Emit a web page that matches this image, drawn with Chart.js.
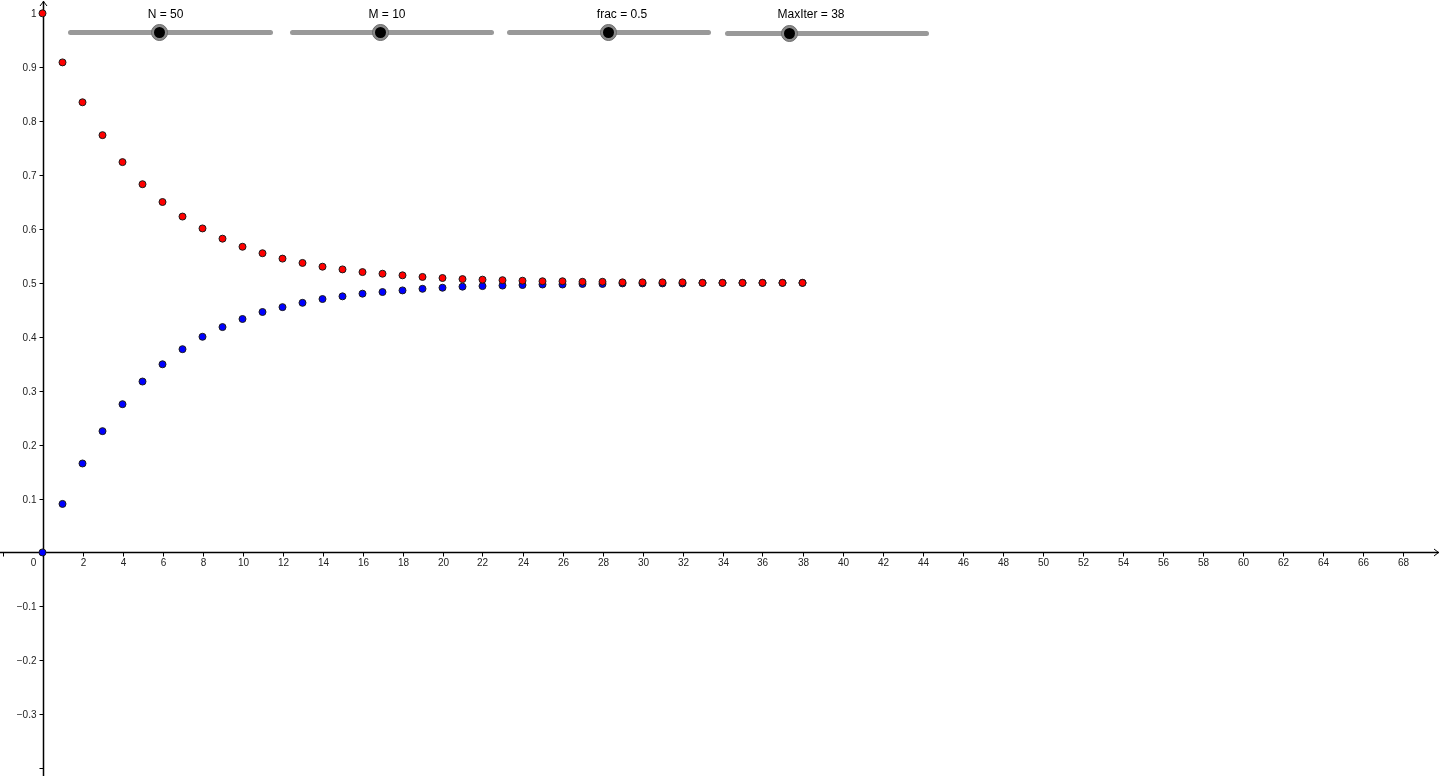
<!DOCTYPE html>
<html>
<head>
<meta charset="utf-8">
<script src="https://cdn.jsdelivr.net/npm/chart.js@4"></script>
<style>
  html, body { margin: 0; padding: 0; background: #fff; overflow: hidden; }
  #wrap { position: relative; width: 1440px; height: 776px; }
  #plot { position: absolute; left: 0; top: 0; }
  .track { position: absolute; height: 5px; background: #999; border-radius: 3px; }
  .knob { position: absolute; width: 17px; height: 17px; border-radius: 50%;
          background: #8a8a8a; box-sizing: border-box; border: 1px solid #6a6a6a; }
  .knob::after { content: ""; position: absolute; left: 2px; top: 2px; width: 11px; height: 11px;
                 border-radius: 50%; background: #000; }
  .cap { position: absolute; font: 12px "Liberation Sans", Arial, sans-serif; color: #000;
         transform: translate(-50%, -50%); white-space: nowrap; }
</style>
</head>
<body>
<div id="wrap">
  <canvas id="plot" width="1440" height="776"></canvas>
</div>
<script>
// Iteration index and the two expected fractions.
const steps = [0, 1, 2, 3, 4, 5, 6, 7, 8, 9, 10, 11, 12, 13, 14, 15, 16, 17, 18, 19,
  20, 21, 22, 23, 24, 25, 26, 27, 28, 29, 30, 31, 32, 33, 34, 35, 36, 37, 38];
const redSeries = [1, 0.909, 0.835, 0.774, 0.724, 0.683, 0.650, 0.623, 0.601, 0.582,
  0.567, 0.555, 0.545, 0.537, 0.530, 0.525, 0.520, 0.517, 0.514, 0.511,
  0.509, 0.507, 0.506, 0.505, 0.504, 0.503, 0.503, 0.502, 0.502, 0.501,
  0.501, 0.501, 0.501, 0.500, 0.500, 0.500, 0.500, 0.500, 0.500];
const blueSeries = [0, 0.090, 0.165, 0.225, 0.275, 0.317, 0.349, 0.377, 0.400, 0.418,
  0.433, 0.446, 0.455, 0.463, 0.470, 0.475, 0.480, 0.483, 0.486, 0.489,
  0.491, 0.493, 0.494, 0.495, 0.496, 0.497, 0.497, 0.498, 0.498, 0.499,
  0.499, 0.499, 0.499, 0.500, 0.500, 0.500, 0.500, 0.500, 0.500];

// Axis ticks (GeoGebra style: axes through the origin)
const xTickValues = [-2, 0, 2, 4, 6, 8, 10, 12, 14, 16, 18, 20, 22, 24, 26, 28, 30, 32, 34,
  36, 38, 40, 42, 44, 46, 48, 50, 52, 54, 56, 58, 60, 62, 64, 66, 68];
const xTickLabels = ["", "0", "2", "4", "6", "8", "10", "12", "14", "16", "18", "20", "22", "24",
  "26", "28", "30", "32", "34", "36", "38", "40", "42", "44", "46", "48", "50", "52", "54",
  "56", "58", "60", "62", "64", "66", "68"];
const yTickValues = [-0.4, -0.3, -0.2, -0.1, 0.1, 0.2, 0.3, 0.4, 0.5, 0.6, 0.7, 0.8, 0.9, 1];
const yTickLabels = ["", "\u22120.3", "\u22120.2", "\u22120.1", "0.1", "0.2", "0.3", "0.4",
  "0.5", "0.6", "0.7", "0.8", "0.9", "1"];

// Sliders shown above the plot
const sliderNames = ["N", "M", "frac", "MaxIter"];
const sliderValues = [50, 10, 0.5, 38];

// ── slider widgets (layout only) ───────────────────────────────────────
const sliderBoxes = [
  { x1: 68, x2: 273, y: 32, knob: 159, cap: 165.5, capY: 13.5 },
  { x1: 290, x2: 494, y: 32, knob: 380, cap: 387, capY: 13.5 },
  { x1: 507, x2: 711, y: 32, knob: 608, cap: 622, capY: 13.5 },
  { x1: 725, x2: 929, y: 33, knob: 789, cap: 811, capY: 14 },
];
const wrap = document.getElementById("wrap");
sliderBoxes.forEach((b, i) => {
  const t = document.createElement("div");
  t.className = "track";
  t.style.left = b.x1 + "px"; t.style.width = (b.x2 - b.x1) + "px"; t.style.top = (b.y - 2.5) + "px";
  const k = document.createElement("div");
  k.className = "knob";
  k.style.left = (b.knob - 8.5) + "px"; k.style.top = (b.y - 8.5) + "px";
  const c = document.createElement("div");
  c.className = "cap";
  c.style.left = b.cap + "px"; c.style.top = b.capY + "px";
  c.textContent = `${sliderNames[i]} = ${sliderValues[i]}`;
  wrap.append(t, k, c);
});

// ── axes through the origin, drawn from the chart's own scales ─────────
const originAxes = {
  id: "originAxes",
  beforeDatasetsDraw(chart) {
    const { ctx, chartArea: area, scales: { x, y } } = chart;
    const x0 = Math.round(x.getPixelForValue(0)) + 0.5;
    const y0 = Math.round(y.getPixelForValue(0)) + 0.5;
    ctx.save();
    ctx.strokeStyle = "#000";
    ctx.lineWidth = 1.5;
    ctx.beginPath();
    ctx.moveTo(area.left, y0); ctx.lineTo(area.right - 1, y0);
    ctx.moveTo(x0, area.bottom); ctx.lineTo(x0, area.top + 1);
    ctx.stroke();
    // arrow heads
    ctx.lineWidth = 1;
    ctx.beginPath();
    ctx.moveTo(x0 - 3.5, 6); ctx.lineTo(x0, 1.5); ctx.lineTo(x0 + 3.5, 6);
    ctx.moveTo(area.right - 6, y0 - 3.5); ctx.lineTo(area.right - 1.5, y0); ctx.lineTo(area.right - 6, y0 + 3.5);
    ctx.stroke();

    ctx.fillStyle = "#222";
    ctx.font = '10px "Liberation Sans", Arial, sans-serif';
    ctx.lineWidth = 1;
    // x ticks
    ctx.textAlign = "center";
    ctx.textBaseline = "middle";
    xTickValues.forEach((v, i) => {
      const px = Math.round(x.getPixelForValue(v)) + 0.5;
      if (v !== 0) {
        ctx.beginPath(); ctx.moveTo(px, y0); ctx.lineTo(px, y0 + 4); ctx.stroke();
      }
      const lx = v === 0 ? x0 - 10 : px;
      if (xTickLabels[i]) ctx.fillText(xTickLabels[i], lx, y0 + 11);
    });
    // y ticks
    ctx.textAlign = "right";
    yTickValues.forEach((v, i) => {
      const py = Math.round(y.getPixelForValue(v)) + 0.5;
      ctx.beginPath(); ctx.moveTo(x0 - 4, py); ctx.lineTo(x0, py); ctx.stroke();
      if (yTickLabels[i]) ctx.fillText(yTickLabels[i], x0 - 7, py + 0.5);
    });
    ctx.restore();
  },
};

const pointStyle = (fill) => ({
  backgroundColor: fill,
  borderColor: "#1a1a1a",
  borderWidth: 1,
  pointRadius: 3.5,
  showLine: false,
});

new Chart(document.getElementById("plot"), {
  type: "scatter",
  data: {
    datasets: [
      // dataset 0 is painted last, so red sits on top of blue
      { label: "red", data: steps.map((s, i) => ({ x: s, y: redSeries[i] })), ...pointStyle("#ff0000") },
      { label: "blue", data: steps.map((s, i) => ({ x: s, y: blueSeries[i] })), ...pointStyle("#0000ff") },
    ],
  },
  options: {
    responsive: false,
    devicePixelRatio: 1,
    animation: false,
    events: [],
    layout: { padding: 0, autoPadding: false },
    scales: {
      x: { type: "linear", min: -2.125, max: 69.875, display: false },
      y: { type: "linear", min: -0.4147, max: 1.0247, display: false },
    },
    plugins: { legend: { display: false }, tooltip: { enabled: false } },
  },
  plugins: [originAxes],
});
</script>
</body>
</html>
